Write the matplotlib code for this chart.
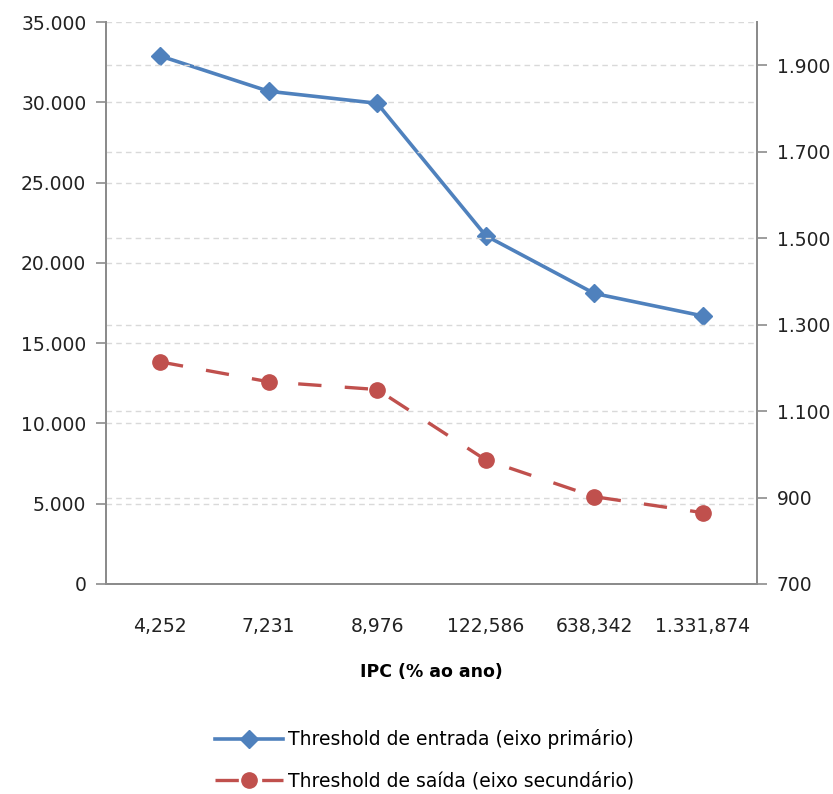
import matplotlib.pyplot as plt
from matplotlib.ticker import FuncFormatter

# data
ipc = ['4,252', '7,231', '8,976', '122,586', '638,342', '1.331,874']
entrada = [32900, 30700, 29950, 21700, 18100, 16700]
saida = [1214, 1168, 1150, 987, 902, 865]

blue = '#4F81BD'
red = '#C0504D'
grid_c = '#D9D9D9'
spine_c = '#8C8C8C'

plt.rcParams['font.family'] = ['DejaVu Sans']
plt.rcParams['font.size'] = 13

fig = plt.figure(figsize=(8.33, 7.94), dpi=100)
ax1 = fig.add_axes([0.127, 0.2645, 0.782, 0.7075])
ax2 = ax1.twinx()

x = list(range(len(ipc)))

# gridlines of both axes
for v in range(5000, 35001, 5000):
    ax1.axhline(v, color=grid_c, ls=(0, (4, 3)), lw=1, zorder=0)
for v in range(900, 1901, 200):
    ax2.axhline(v, color=grid_c, ls=(0, (4, 3)), lw=1, zorder=0)

l1, = ax1.plot(x, entrada, color=blue, lw=2.6, marker='D', ms=9,
               label='Threshold de entrada (eixo primário)', zorder=3)
l2, = ax2.plot(x, saida, color=red, lw=2.4, dashes=(7, 7), marker='o', ms=11,
               label='Threshold de saída (eixo secundário)', zorder=3)

fmt = FuncFormatter(lambda v, p: f'{int(v):,}'.replace(',', '.'))
ax1.set_xlim(-0.5, 5.5)
ax1.set_ylim(0, 35000)
ax1.set_yticks(range(0, 35001, 5000))
ax1.yaxis.set_major_formatter(fmt)
ax2.set_ylim(700, 2000)
ax2.set_yticks(range(700, 2000, 200))
ax2.yaxis.set_major_formatter(fmt)

ax1.set_xticks(x)
ax1.set_xticklabels(ipc)
ax1.tick_params(axis='x', length=0, pad=24, colors='#222222', labelsize=13.5)
for a in (ax1, ax2):
    a.tick_params(axis='y', direction='out', length=7, width=1.2, color=spine_c,
                  labelcolor='#222222', pad=7, labelsize=13.5)
    a.spines['top'].set_visible(False)
    for s in ('left', 'right', 'bottom'):
        a.spines[s].set_color(spine_c)
        a.spines[s].set_linewidth(1.4)

ax1.set_xlabel('IPC (% ao ano)', fontweight='bold', labelpad=19, fontsize=12.5)

fig.legend(handles=[l1, l2], loc='center', bbox_to_anchor=(0.51, 0.043),
           frameon=False, fontsize=13.5, handlelength=3.6, labelspacing=1.2,
           handletextpad=0.3)

fig.savefig('out.png', dpi=100)
